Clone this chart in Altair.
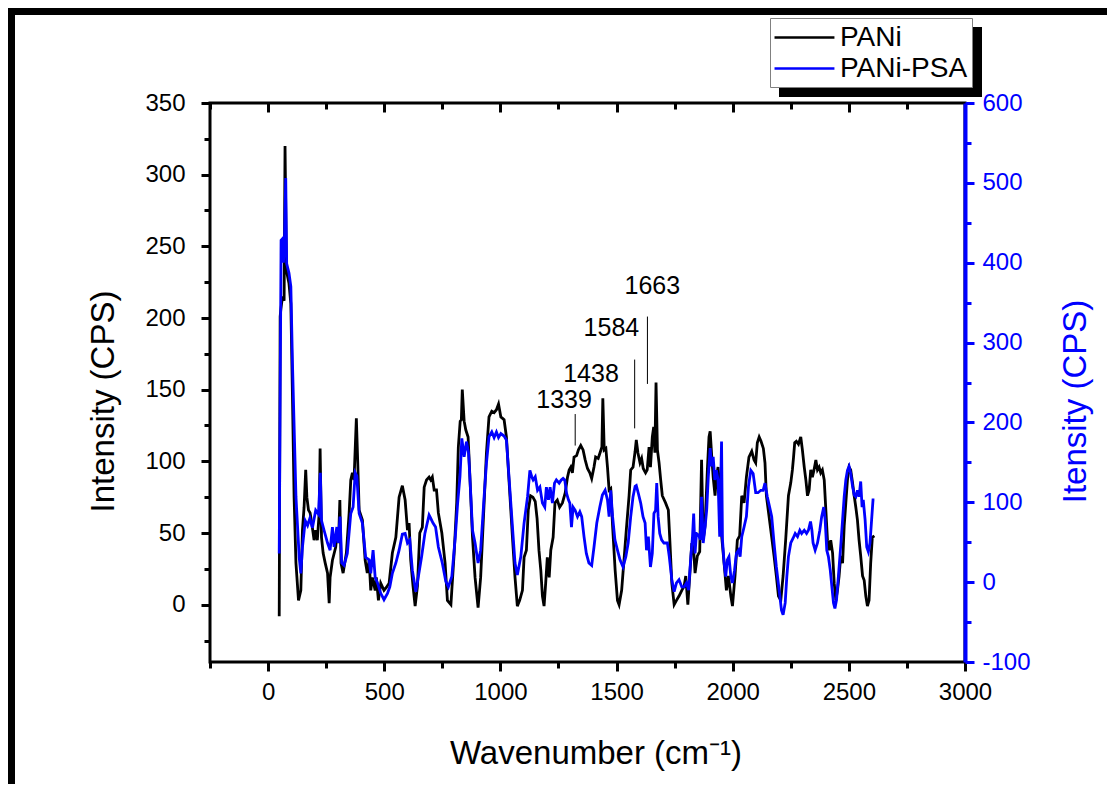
import altair as alt
import pandas as pd

# ---------------- data ----------------
pani_w = [48, 52, 55, 62, 69, 73, 79, 90, 98, 105, 112, 120, 131, 141, 148, 155, 162, 167, 174, 181,
          188, 198, 205, 212, 220, 224, 230, 237, 246, 256, 263, 267, 277, 291, 298, 303, 309, 314, 323, 337,
          349, 356, 363, 370, 380, 386, 392, 406, 418, 427, 435, 442, 449, 461, 466, 475, 485, 499, 509, 521,
          535, 550, 564, 578, 590, 600, 607, 614, 624, 633, 643, 653, 664, 672, 682, 693, 700, 707, 715, 725,
          733, 748, 762, 772, 787, 801, 812, 819, 827, 832, 836, 844, 851, 861, 868, 880, 891, 904, 915, 930,
          940, 951, 963, 973, 983, 992, 1002, 1016, 1026, 1037, 1052, 1063, 1073, 1083, 1095, 1102, 1112, 1120, 1130, 1140,
          1150, 1158, 1166, 1174, 1181, 1188, 1195, 1202, 1210, 1217, 1227, 1235, 1245, 1255, 1267, 1279, 1289, 1296, 1303, 1310,
          1317, 1328, 1336, 1346, 1356, 1365, 1375, 1385, 1393, 1403, 1410, 1421, 1429, 1437, 1441, 1447, 1454, 1461, 1468, 1475,
          1483, 1494, 1504, 1511, 1522, 1532, 1542, 1554, 1561, 1571, 1580, 1585, 1592, 1601, 1608, 1615, 1625, 1632, 1640, 1646,
          1654, 1660, 1665, 1670, 1676, 1683, 1690, 1697, 1711, 1723, 1730, 1738, 1748, 1758, 1769, 1781, 1791, 1798, 1807, 1815,
          1824, 1832, 1838, 1848, 1858, 1866, 1873, 1881, 1891, 1898, 1903, 1910, 1916, 1924, 1930, 1937, 1944, 1953, 1963, 1973,
          1982, 1992, 1999, 2010, 2020, 2030, 2039, 2049, 2059, 2070, 2082, 2092, 2099, 2106, 2114, 2122, 2132, 2139, 2145, 2157,
          2168, 2178, 2188, 2197, 2207, 2217, 2228, 2240, 2250, 2257, 2262, 2267, 2274, 2283, 2293, 2300, 2308, 2315, 2322, 2329,
          2336, 2343, 2350, 2358, 2365, 2372, 2379, 2386, 2394, 2401, 2408, 2415, 2422, 2430, 2437, 2444, 2451, 2458, 2465, 2473,
          2480, 2487, 2494, 2501, 2508, 2516, 2523, 2530, 2537, 2544, 2551, 2559, 2566, 2573, 2580, 2587, 2594, 2601, 2610]
pani_v = [-8, 201, 206, 215, 212, 320, 233, 224, 210, 145, 75, 29, 3, 10, 52, 68, 94, 75, 66, 64,
          57, 45, 52, 45, 64, 109, 47, 36, 29, 22, 1, 19, 31, 40, 52, 43, 73, 29, 22, 36,
          64, 87, 92, 87, 130, 99, 66, 59, 31, 22, 31, 10, 19, 10, 19, 3, 15, 10, 12, 15,
          36, 47, 75, 83, 73, 52, 57, 31, 13, -1, 13, 50, 54, 82, 87, 89, 87, 89, 80, 80,
          64, 50, 29, 3, 0, 36, 71, 110, 128, 129, 150, 128, 122, 117, 92, 47, 19, -2, 19, 71,
          106, 131, 135, 134, 136, 140, 131, 129, 117, 87, 47, 19, -1, 3, 10, 33, 38, 66, 76, 75,
          72, 60, 38, 24, 6, -1, 15, 33, 19, 38, 47, 71, 73, 68, 71, 78, 89, 94, 96, 92,
          103, 104, 108, 111, 108, 101, 95, 92, 88, 96, 103, 102, 106, 110, 144, 108, 109, 96, 80, 81,
          55, 24, 3, 0, 10, 31, 52, 76, 94, 96, 107, 115, 106, 99, 102, 95, 92, 94, 110, 96,
          117, 124, 106, 155, 108, 99, 87, 76, 71, 66, 43, 15, 0, 3, 6, 10, 13, 20, 0, 20,
          43, 38, 22, 34, 37, 101, 45, 55, 94, 117, 121, 103, 89, 76, 89, 96, 82, 47, 29, 10,
          20, 6, -1, 20, 45, 48, 76, 71, 89, 103, 107, 101, 99, 113, 117, 114, 109, 99, 76, 61,
          47, 34, 20, 6, 3, 20, 45, 76, 85, 94, 103, 113, 114, 112, 117, 108, 96, 87, 76, 80,
          94, 89, 94, 101, 94, 96, 92, 94, 87, 66, 45, 38, 45, 36, 15, 3, 10, 20, 34, 29,
          55, 71, 87, 96, 94, 85, 76, 68, 59, 45, 34, 20, 17, 6, -1, 3, 29, 47, 48]

psa_w = [48, 56, 62, 66, 70, 76, 80, 90, 98, 105, 120, 134, 141, 148, 160, 170, 180, 191, 205, 217,
         225, 230, 241, 256, 267, 277, 284, 296, 301, 310, 317, 327, 341, 356, 366, 375, 382, 392, 406, 420,
         435, 442, 452, 461, 471, 485, 499, 514, 524, 535, 550, 564, 578, 590, 600, 610, 621, 636, 647, 661,
         675, 693, 700, 710, 721, 733, 750, 765, 776, 791, 806, 816, 826, 834, 844, 854, 863, 870, 880, 891,
         904, 915, 930, 940, 951, 963, 973, 983, 992, 1002, 1016, 1026, 1037, 1052, 1063, 1073, 1088, 1102, 1117, 1127,
         1135, 1141, 1150, 1160, 1170, 1181, 1191, 1198, 1207, 1214, 1224, 1233, 1241, 1253, 1262, 1270, 1277, 1285, 1293, 1299,
         1306, 1313, 1322, 1332, 1342, 1350, 1360, 1370, 1381, 1393, 1403, 1415, 1428, 1439, 1451, 1461, 1468, 1475, 1483, 1493,
         1504, 1515, 1528, 1540, 1550, 1561, 1571, 1580, 1585, 1594, 1604, 1614, 1623, 1629, 1637, 1646, 1654, 1661, 1668, 1673,
         1679, 1686, 1694, 1704, 1719, 1727, 1738, 1748, 1758, 1769, 1781, 1791, 1801, 1810, 1820, 1827, 1832, 1838, 1844, 1853,
         1861, 1866, 1873, 1881, 1888, 1895, 1903, 1909, 1916, 1923, 1930, 1937, 1944, 1952, 1956, 1963, 1970, 1977, 1984, 1992,
         1999, 2008, 2016, 2025, 2032, 2039, 2049, 2059, 2068, 2078, 2088, 2099, 2109, 2121, 2131, 2139, 2149, 2159, 2168, 2178,
         2188, 2200, 2210, 2217, 2226, 2233, 2240, 2250, 2260, 2269, 2279, 2289, 2297, 2308, 2318, 2326, 2335, 2341, 2346, 2355,
         2365, 2375, 2383, 2392, 2398, 2405, 2412, 2420, 2427, 2434, 2440, 2447, 2456, 2466, 2473, 2480, 2487, 2494, 2501, 2508,
         2516, 2523, 2530, 2537, 2544, 2551, 2557, 2562, 2570, 2577, 2584, 2591, 2598, 2604, 2610]
psa_v = [36, 428, 430, 400, 420, 506, 399, 387, 370, 274, 107, 31, 11, 44, 77, 71, 80, 68, 90, 85,
         137, 77, 65, 49, 40, 69, 44, 69, 49, 82, 24, 21, 36, 86, 94, 137, 133, 86, 74, 31,
         28, 11, 40, 6, -1, -14, -22, -14, -6, 11, 24, 40, 60, 61, 49, 53, 15, -12, 7, 32,
         61, 84, 80, 74, 69, 44, 24, 1, -6, 7, 57, 99, 132, 180, 157, 176, 162, 124, 65, 49,
         24, 40, 107, 149, 182, 188, 181, 188, 181, 186, 183, 178, 132, 69, 24, 9, 32, 74, 107, 140,
         132, 128, 132, 115, 119, 99, 94, 119, 103, 119, 99, 124, 128, 124, 128, 130, 128, 111, 103, 99,
         69, 94, 90, 82, 88, 82, 57, 36, 24, 21, 44, 74, 94, 109, 115, 103, 82, 115, 82, 53,
         40, 28, 19, 32, 49, 82, 107, 120, 121, 111, 99, 82, 74, 40, 57, 19, 36, 86, 90, 124,
         82, 61, 53, 49, 49, 32, 3, -12, -1, 3, -6, -6, -1, -10, 32, 57, 86, 36, 61, 59,
         53, 107, 49, 69, 90, 132, 168, 145, 157, 128, 140, 128, 57, 176, 53, 24, 7, 28, 32, 7,
         -1, 15, 36, 40, 32, 57, 69, 82, 120, 140, 136, 112, 112, 115, 115, 124, 107, 94, 82, 49,
         19, -10, -35, -41, -26, 7, 32, 49, 55, 61, 57, 65, 61, 65, 61, 65, 76, 65, 49, 40,
         49, 65, 82, 94, 78, 40, 32, 15, -6, -26, -33, -22, 11, 49, 78, 107, 128, 140, 145, 136,
         120, 109, 107, 115, 107, 126, 94, 103, 78, 44, 38, 49, 78, 103, 103]

series_names = ["PANi", "PANi-PSA"]
series_colors = ["#000000", "#0000ff"]

peak_labels = ["1339", "1438", "1584", "1663"]
peak_label_w = [1274, 1390, 1478, 1654]
peak_label_v = [143, 161, 193, 222]

marker_w = [1322, 1578, 1633]
marker_top = [133, 171, 201]
marker_bottom = [111, 123, 154]

x_ticks = list(range(-250, 3001, 250))
x_major = list(range(0, 3001, 500))
x_minor = [t for t in x_ticks if t % 500 != 0]
yl_ticks = list(range(-25, 351, 25))
yr_ticks = list(range(-100, 601, 50))

# ---------------- tables ----------------
df_pani = pd.DataFrame({"w": pani_w, "v": pani_v, "series": series_names[0]})
df_psa = pd.DataFrame({"w": psa_w, "v": psa_v, "series": series_names[1]})
df_lab = pd.DataFrame({"w": peak_label_w, "v": peak_label_v, "t": peak_labels})
df_mark = pd.DataFrame({"w": marker_w, "v1": marker_top, "v2": marker_bottom})

FONT = "Liberation Sans"
W, H = 755, 559
BLUE = "#0000ff"

xs = alt.Scale(domain=[-250, 3000], nice=False, zero=False)
yls = alt.Scale(domain=[-40, 350], nice=False, zero=False)
yrs = alt.Scale(domain=[-100, 600], nice=False, zero=False)

color_enc = alt.Color(
    "series:N",
    scale=alt.Scale(domain=series_names, range=series_colors),
    legend=alt.Legend(
        title=None, orient="none", legendX=560, legendY=-85,
        symbolType="M-1.07,0H3.21", symbolSize=784, symbolStrokeWidth=2.5,
        labelFontSize=28, labelFont=FONT, labelColor="black", labelOffset=35,
        padding=4, rowPadding=1, fillColor="white", strokeColor="#808080",
    ),
)

bottom_axis = alt.Axis(
    orient="bottom", values=x_ticks,
    labelExpr="datum.value % 500 === 0 ? '' + datum.value : ''",
    labelFlush=False, labelOverlap=False,
    tickSize={"condition": {"test": "datum.value % 500 === 0", "value": 9}, "value": 6},
    tickWidth=3, tickColor="black", domain=False, grid=False,
    labelFontSize=24, labelPadding=9, labelColor="black",
    title="Wavenumber (cm⁻¹)", titleFontSize=33, titleFontWeight="normal",
    titleX=W / 2 + 8, titleY=91, titleAlign="center", titleBaseline="middle",
)
left_axis = alt.Axis(
    orient="left", values=yl_ticks,
    labelExpr="datum.value % 50 === 0 ? '' + datum.value : ''",
    labelFlush=False, labelOverlap=False,
    tickSize={"condition": {"test": "datum.value % 50 === 0", "value": 9}, "value": 6},
    tickWidth=3, tickColor="black", domain=False, grid=False,
    labelFontSize=24, labelPadding=16, labelColor="black",
    title="Intensity (CPS)", titleFontSize=33, titleFontWeight="normal",
    titleAngle=270, titleX=-107, titleY=298, titleAlign="center", titleBaseline="middle",
)
right_axis = alt.Axis(
    orient="right", values=yr_ticks,
    labelExpr="datum.value % 100 === 0 ? '' + datum.value : ''",
    labelFlush=False, labelOverlap=False,
    tickSize={"condition": {"test": "datum.value % 100 === 0", "value": 9}, "value": 6},
    tickWidth=3, tickColor=BLUE, domain=True, domainColor=BLUE, domainWidth=4,
    grid=False, labelFontSize=24, labelPadding=8, labelColor=BLUE,
    title="Itensity (CPS)", titleFontSize=33, titleFontWeight="normal", titleColor=BLUE,
    titleAngle=270, titleX=110, titleY=298, titleAlign="center", titleBaseline="middle",
)

blank = alt.Data(values=[{}])

# legend drop shadow and figure frame (decoration)
shadow = alt.Chart(blank).mark_rect(color="black").encode(
    x=alt.value(569), x2=alt.value(772), y=alt.value(-76), y2=alt.value(-6)
)
frame_left = alt.Chart(blank).mark_rule(color="black", strokeWidth=7).encode(
    x=alt.value(-198.5), y=alt.value(-95), y2=alt.value(700)
)
frame_top = alt.Chart(blank).mark_rule(color="black", strokeWidth=7).encode(
    x=alt.value(-202), x2=alt.value(900), y=alt.value(-91.5)
)

black = alt.Chart(df_pani).mark_line(strokeWidth=2.8).encode(
    x=alt.X("w:Q", scale=xs, axis=bottom_axis),
    y=alt.Y("v:Q", scale=yls, axis=left_axis),
    color=color_enc,
)
blue = alt.Chart(df_psa).mark_line(strokeWidth=2.8).encode(
    x=alt.X("w:Q", scale=xs, axis=None),
    y=alt.Y("v:Q", scale=yrs, axis=right_axis),
    color=color_enc,
)
labels = alt.Chart(df_lab).mark_text(fontSize=25, font=FONT, color="black",
                                     align="center", baseline="middle").encode(
    x=alt.X("w:Q", scale=xs, axis=None),
    y=alt.Y("v:Q", scale=yls, axis=None),
    text="t:N",
)
markers = alt.Chart(df_mark).mark_rule(color="black", strokeWidth=1).encode(
    x=alt.X("w:Q", scale=xs, axis=None),
    y=alt.Y("v1:Q", scale=yls, axis=None),
    y2="v2:Q",
)
top_major = alt.Chart(df_pani).mark_point(opacity=0).encode(
    x=alt.X("w:Q", scale=xs, axis=alt.Axis(
        orient="top", values=x_major, labels=False, domain=False, grid=False,
        tickSize=9, tickWidth=3, tickColor="black", offset=-9, title=None)),
)
top_minor = alt.Chart(df_pani).mark_point(opacity=0).encode(
    x=alt.X("w:Q", scale=xs, axis=alt.Axis(
        orient="top", values=x_minor, labels=False, domain=False, grid=False,
        tickSize=6, tickWidth=3, tickColor="black", offset=-6, title=None)),
)

chart = (
    alt.layer(shadow, frame_left, frame_top, black, blue, markers, labels, top_major, top_minor)
    .resolve_scale(y="independent")
    .resolve_axis(x="independent", y="independent")
    .properties(
        width=W, height=H,
        autosize=alt.AutoSizeParams(type="none"),
        padding={"left": 202, "top": 95, "right": 142, "bottom": 122},
    )
    .configure(font=FONT)
    .configure_view(stroke="black", strokeWidth=3)
    .configure_axis(labelFont=FONT, titleFont=FONT)
)

chart.save("out.html", embed_options={"renderer": "svg", "actions": False})
